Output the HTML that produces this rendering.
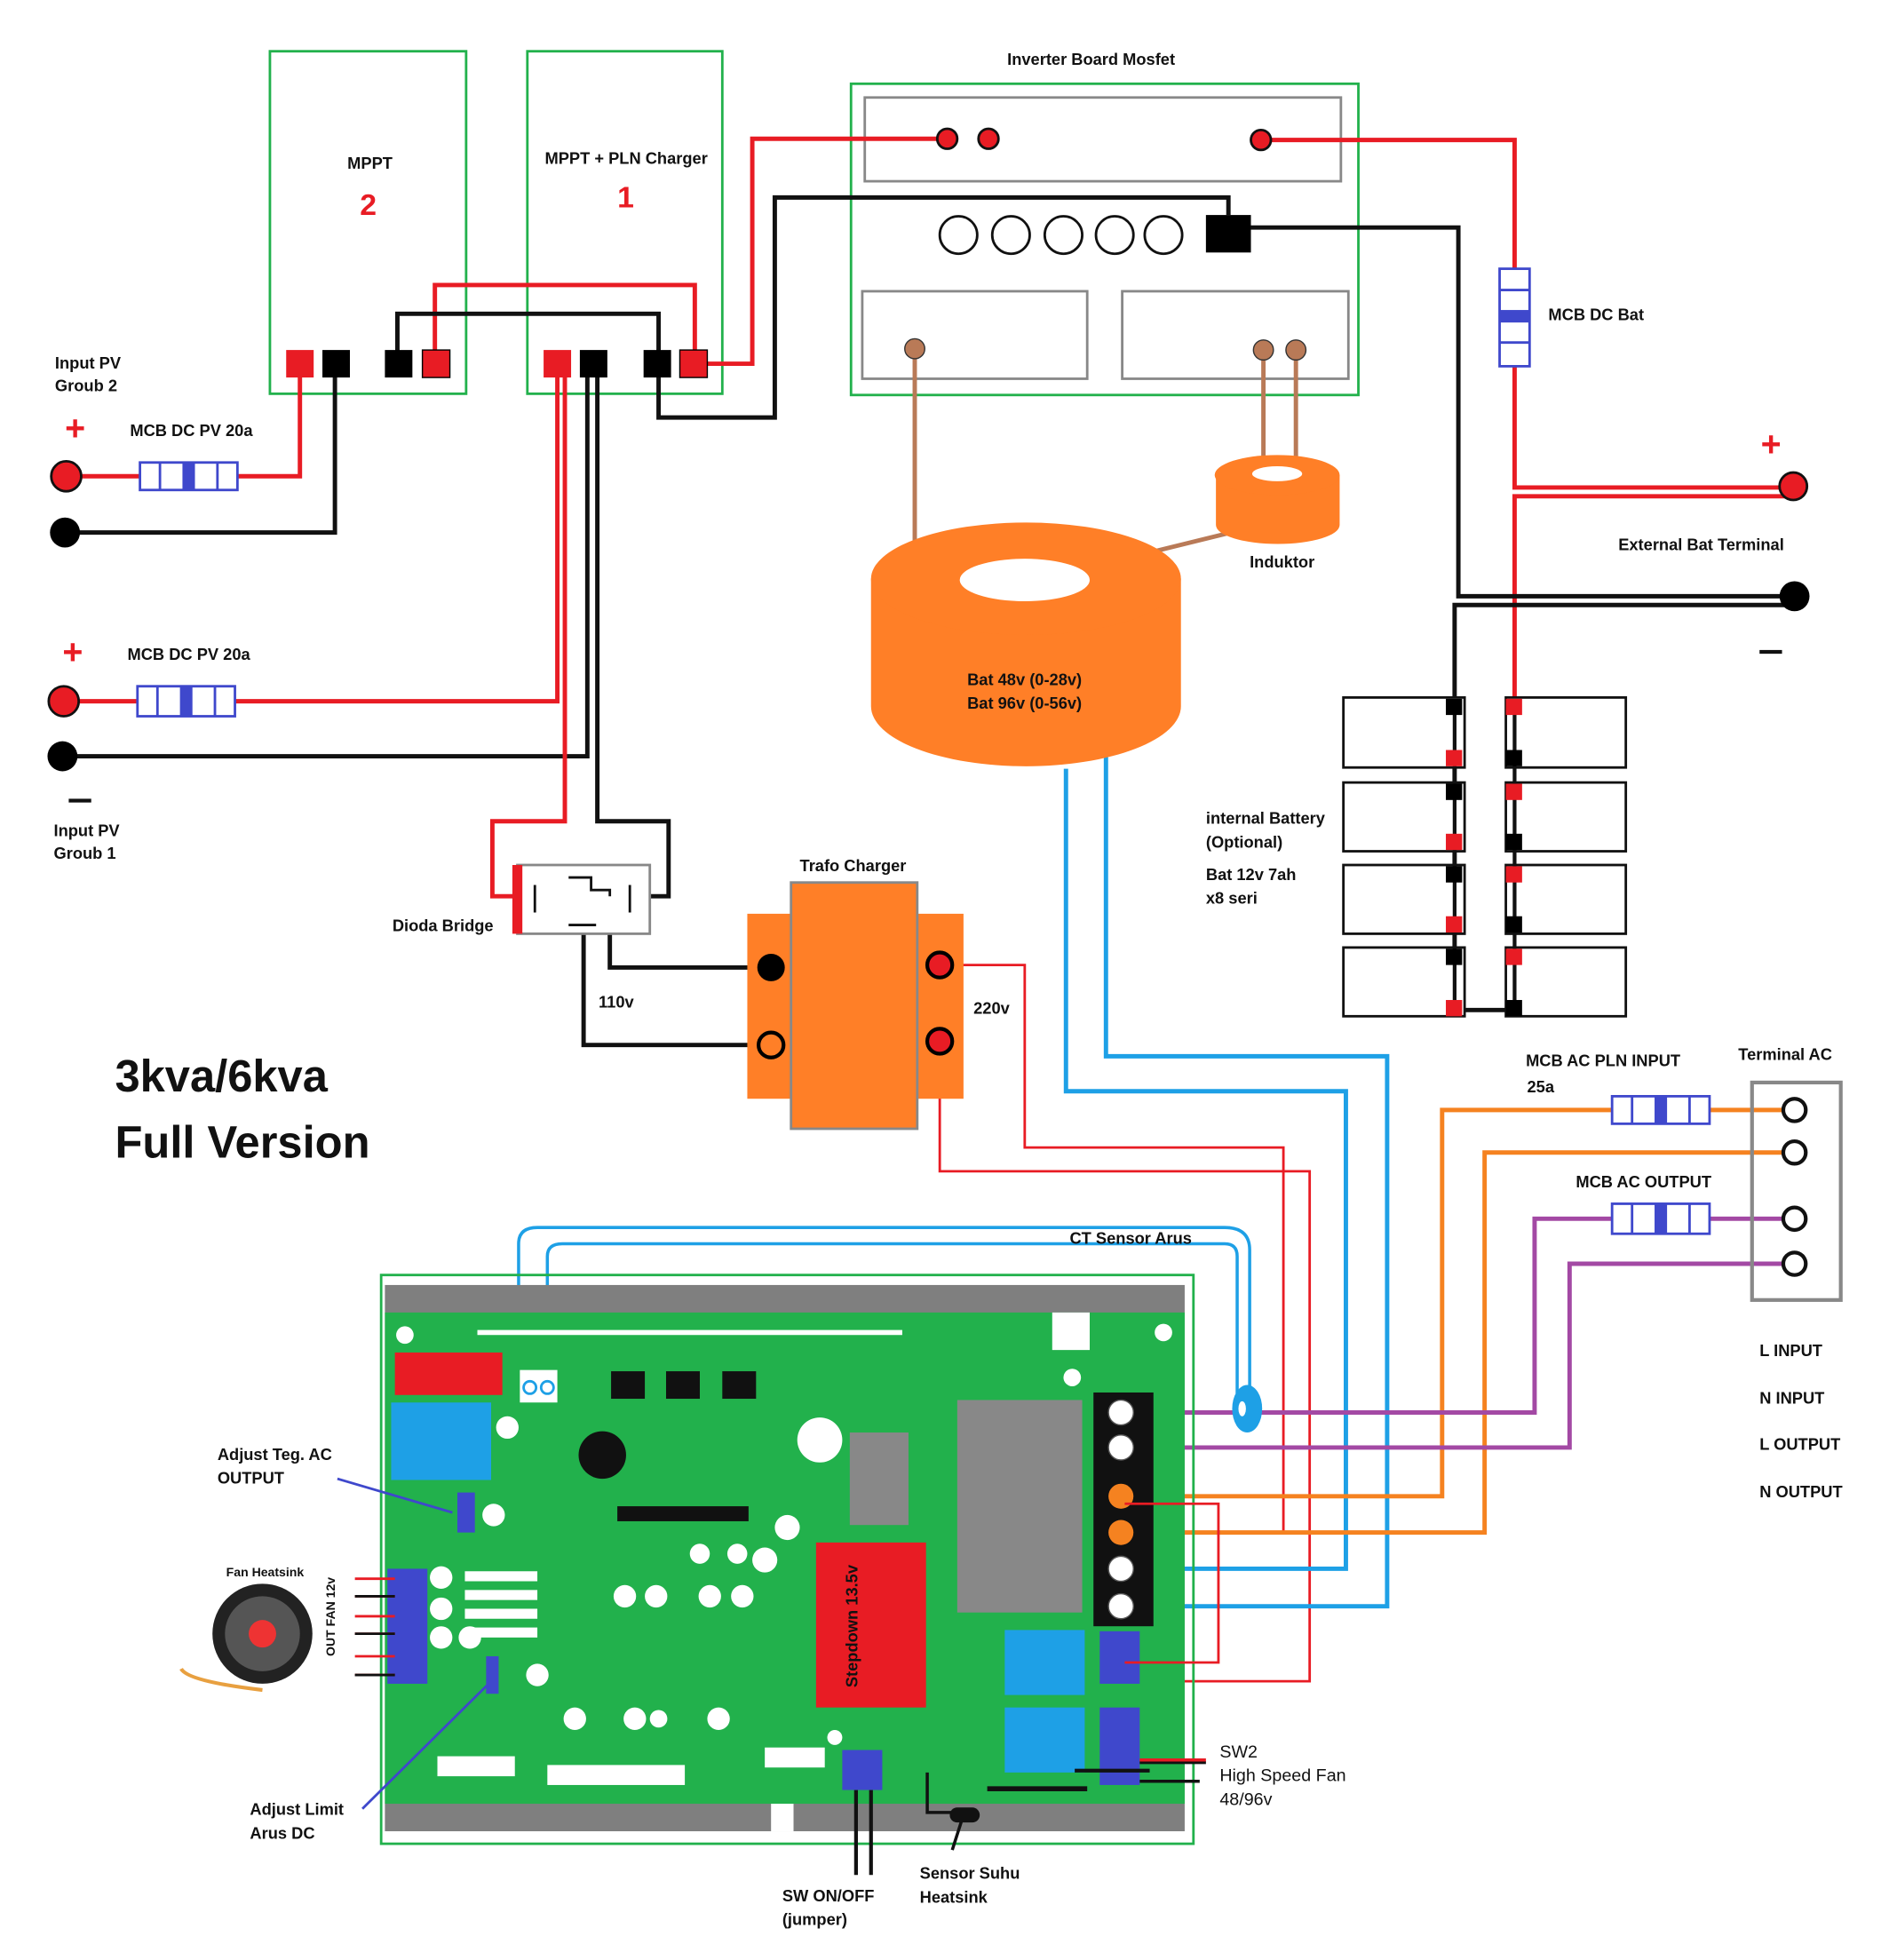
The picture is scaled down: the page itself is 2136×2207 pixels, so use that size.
<!DOCTYPE html>
<html><head><meta charset="utf-8"><style>
html,body{margin:0;padding:0;background:#fff}
svg{display:block}
text{font-family:"Liberation Sans",sans-serif;font-weight:bold;font-size:13px;fill:#111}
</style></head><body>
<svg width="2136" height="2207" viewBox="0 0 1518 1568" preserveAspectRatio="none" xmlns="http://www.w3.org/2000/svg">
<rect width="1530" height="1581" fill="#fff"/>
<rect x="216" y="41" width="157" height="274" fill="none" stroke="#22b14c" stroke-width="2"/>
<rect x="422" y="41" width="156" height="274" fill="none" stroke="#22b14c" stroke-width="2"/>
<text x="278" y="135">MPPT</text>
<text x="288" y="172" style="fill:#e81c24;font-size:24px">2</text>
<text x="436" y="131">MPPT + PLN Charger</text>
<text x="494" y="166" style="fill:#e81c24;font-size:24px">1</text>
<text x="806" y="52">Inverter Board Mosfet</text>
<rect x="681" y="67" width="406" height="249" fill="none" stroke="#22b14c" stroke-width="2"/>
<rect x="692" y="78" width="381" height="67" fill="none" stroke="#888" stroke-width="2"/>
<rect x="690" y="233" width="180" height="70" fill="none" stroke="#888" stroke-width="2"/>
<rect x="898" y="233" width="181" height="70" fill="none" stroke="#888" stroke-width="2"/>
<g fill="none" stroke="#111" stroke-width="2"><circle cx="767" cy="188" r="15"/><circle cx="809" cy="188" r="15"/><circle cx="851" cy="188" r="15"/><circle cx="892" cy="188" r="15"/><circle cx="931" cy="188" r="15"/></g>
<rect x="965" y="172" width="36" height="30" fill="#000"/>
<g fill="none" stroke-width="3.5">
<path d="M758 111H602V291H555" stroke="#e81c24"/>
<path d="M1009 112H1212V390H1435" stroke="#e81c24"/>
<path d="M1435 397H1212V565" stroke="#e81c24"/>
<path d="M983 172V158H620V334H527V291" stroke="#111"/>
<path d="M1001 182H1167V477H1435" stroke="#111"/>
<path d="M1435 484H1164V565" stroke="#111"/>
<path d="M348 291V228H556V291" stroke="#e81c24"/>
<path d="M318 291V251H527V291" stroke="#111"/>
<path d="M240 291V381H190M112 381H52" stroke="#e81c24"/>
<path d="M268 291V426H52" stroke="#111"/>
<path d="M446 291V561H188M110 561H50" stroke="#e81c24"/>
<path d="M470 291V605H50" stroke="#111"/>
<path d="M452 291V657H394V717H414" stroke="#e81c24"/>
<path d="M478 291V657H535V717H505" stroke="#111"/>
<path d="M488 715V774H617" stroke="#111"/>
<path d="M467 740V836H617" stroke="#111"/>
<path d="M752 772H820V918H1027V1226H900" stroke="#e81c24" stroke-width="2"/>
<path d="M752 833V937H1048V1345H900" stroke="#e81c24" stroke-width="2"/>
<path d="M853 615V873H1077V1255H900" stroke="#1ea0e6"/>
<path d="M885 600V845H1110V1285H900" stroke="#1ea0e6"/>
<path d="M1436 888H1368M1290 888H1154V1197H900" stroke="#f58220"/>
<path d="M1436 922H1188V1226H900" stroke="#f58220"/>
<path d="M1436 975H1368M1290 975H1228V1130H900" stroke="#a349a4"/>
<path d="M1436 1011H1256V1158H900" stroke="#a349a4"/>
<path d="M1164 565V808H1212" stroke="#111"/>
<path d="M732 280V440M1011 280V370M1037 280V370M920 442L985 426" stroke="#b97a57"/>
<path d="M415 1115V995Q415 982 430 982H980Q1000 982 1000 1000V1115M438 1115V1005Q438 995 450 995H980Q990 995 990 1005V1115" stroke="#1ea0e6" stroke-width="2.5"/>
</g>
<g><rect x="229" y="280" width="22" height="22" fill="#e81c24"/><rect x="258" y="280" width="22" height="22" fill="#000"/>
<rect x="308" y="280" width="22" height="22" fill="#000"/><rect x="338" y="280" width="22" height="22" fill="#e81c24" stroke="#000"/>
<rect x="435" y="280" width="22" height="22" fill="#e81c24"/><rect x="464" y="280" width="22" height="22" fill="#000"/>
<rect x="515" y="280" width="22" height="22" fill="#000"/><rect x="544" y="280" width="22" height="22" fill="#e81c24" stroke="#000"/></g>
<g fill="#e81c24" stroke="#111" stroke-width="2"><circle cx="758" cy="111" r="8"/><circle cx="791" cy="111" r="8"/><circle cx="1009" cy="112" r="8"/>
<circle cx="53" cy="381" r="12"/><circle cx="51" cy="561" r="12"/><circle cx="1435" cy="389" r="11"/></g>
<g fill="#000"><circle cx="52" cy="426" r="12"/><circle cx="50" cy="605" r="12"/><circle cx="1436" cy="477" r="12"/></g>
<g fill="#b97a57" stroke="#333"><circle cx="732" cy="279" r="8"/><circle cx="1011" cy="280" r="8"/><circle cx="1037" cy="280" r="8"/></g>
<g fill="#fff" stroke="#3f48cc" stroke-width="2">
<rect x="112" y="370" width="78" height="22"/><rect x="110" y="549" width="78" height="24"/>
<rect x="1290" y="877" width="78" height="22"/><rect x="1290" y="963" width="78" height="24"/>
<rect x="1200" y="215" width="24" height="78"/></g>
<g fill="#3f48cc"><rect x="146" y="370" width="10" height="22"/><rect x="144" y="549" width="10" height="24"/><rect x="1324" y="877" width="10" height="22"/><rect x="1324" y="963" width="10" height="24"/><rect x="1200" y="248" width="24" height="10"/></g>
<g stroke="#3f48cc" stroke-width="2"><path d="M128 370v22M174 370v22M126 549v24M172 549v24M1306 877v22M1352 877v22M1306 963v24M1352 963v24M1200 232h24M1200 274h24"/></g>
<text x="104" y="349">MCB DC PV 20a</text><text x="102" y="528">MCB DC PV 20a</text>
<text x="44" y="295">Input PV</text><text x="44" y="313">Groub 2</text>
<text x="43" y="669">Input PV</text><text x="43" y="687">Groub 1</text>
<text x="52" y="352" style="fill:#e81c24;font-size:28px">+</text><text x="50" y="531" style="fill:#e81c24;font-size:28px">+</text>
<rect x="55" y="639" width="18" height="3" fill="#111"/>
<text x="1239" y="256">MCB DC Bat</text>
<text x="1409" y="365" style="fill:#e81c24;font-size:28px">+</text>
<rect x="1408" y="520" width="18" height="3" fill="#111"/>
<text x="1295" y="440">External Bat Terminal</text>
<path d="M697 463V565A124 48 0 0 0 945 565V463Z" fill="#ff7f27"/>
<ellipse cx="821" cy="463" rx="124" ry="45" fill="#ff7f27"/>
<ellipse cx="820" cy="464" rx="52" ry="17" fill="#fff"/>
<text x="774" y="548">Bat 48v (0-28v)</text><text x="774" y="567">Bat 96v (0-56v)</text>
<path d="M973 380V420A49 15 0 0 0 1072 420V380Z" fill="#ff7f27"/>
<ellipse cx="1022" cy="380" rx="50" ry="16" fill="#ff7f27"/>
<ellipse cx="1022" cy="379" rx="20" ry="6" fill="#fff"/>
<text x="1000" y="454">Induktor</text>
<g fill="#fff" stroke="#111" stroke-width="2">
<rect x="1075" y="558" width="97" height="56"/><rect x="1205" y="558" width="96" height="56"/>
<rect x="1075" y="626" width="97" height="55"/><rect x="1205" y="626" width="96" height="55"/>
<rect x="1075" y="692" width="97" height="55"/><rect x="1205" y="692" width="96" height="55"/>
<rect x="1075" y="758" width="97" height="55"/><rect x="1205" y="758" width="96" height="55"/></g>
<g stroke-width="3"><path d="M1164 565V808" stroke="#111"/><path d="M1212 565V808" stroke="#111"/></g>
<g>
<rect x="1157" y="559" width="13" height="13" fill="#000"/><rect x="1205" y="559" width="13" height="13" fill="#e81c24"/>
<rect x="1157" y="600" width="13" height="13" fill="#e81c24"/><rect x="1205" y="600" width="13" height="13" fill="#000"/>
<rect x="1157" y="627" width="13" height="13" fill="#000"/><rect x="1205" y="627" width="13" height="13" fill="#e81c24"/>
<rect x="1157" y="667" width="13" height="13" fill="#e81c24"/><rect x="1205" y="667" width="13" height="13" fill="#000"/>
<rect x="1157" y="693" width="13" height="13" fill="#000"/><rect x="1205" y="693" width="13" height="13" fill="#e81c24"/>
<rect x="1157" y="733" width="13" height="13" fill="#e81c24"/><rect x="1205" y="733" width="13" height="13" fill="#000"/>
<rect x="1157" y="759" width="13" height="13" fill="#000"/><rect x="1205" y="759" width="13" height="13" fill="#e81c24"/>
<rect x="1157" y="800" width="13" height="13" fill="#e81c24"/><rect x="1205" y="800" width="13" height="13" fill="#000"/></g>
<text x="965" y="659">internal Battery</text><text x="965" y="678">(Optional)</text>
<text x="965" y="704">Bat 12v 7ah</text><text x="965" y="723">x8 seri</text>
<rect x="414" y="692" width="106" height="55" fill="#fff" stroke="#888" stroke-width="2"/>
<rect x="410" y="692" width="8" height="55" fill="#e81c24"/>
<path d="M428 708v22M455 702h18v10h16M504 708v22M455 740h22M488 717v-5" stroke="#111" stroke-width="2" fill="none"/>
<text x="314" y="745">Dioda Bridge</text>
<rect x="598" y="731" width="173" height="148" fill="#ff7f27"/>
<rect x="633" y="706" width="101" height="197" fill="#ff7f27" stroke="#888" stroke-width="2"/>
<circle cx="617" cy="774" r="11" fill="#000"/>
<circle cx="617" cy="836" r="10" fill="#ff7f27" stroke="#000" stroke-width="3"/>
<circle cx="752" cy="772" r="10" fill="#e81c24" stroke="#000" stroke-width="3"/>
<circle cx="752" cy="833" r="10" fill="#e81c24" stroke="#000" stroke-width="3"/>
<text x="640" y="697">Trafo Charger</text><text x="479" y="806">110v</text><text x="779" y="811">220v</text>
<text x="92" y="873" style="font-size:36px">3kva/6kva</text>
<text x="92" y="926" style="font-size:36px">Full Version</text>
<text x="1391" y="848">Terminal AC</text>
<rect x="1402" y="866" width="71" height="174" fill="none" stroke="#888" stroke-width="3"/>
<g fill="#fff" stroke="#111" stroke-width="3"><circle cx="1436" cy="888" r="9"/><circle cx="1436" cy="922" r="9"/><circle cx="1436" cy="975" r="9"/><circle cx="1436" cy="1011" r="9"/></g>
<text x="1221" y="853">MCB AC PLN INPUT</text><text x="1222" y="874">25a</text>
<text x="1261" y="950">MCB AC OUTPUT</text>
<text x="1408" y="1085">L INPUT</text><text x="1408" y="1123">N INPUT</text><text x="1408" y="1160">L OUTPUT</text><text x="1408" y="1198">N OUTPUT</text>
<text x="856" y="995">CT Sensor Arus</text>
<rect x="305" y="1020" width="650" height="455" fill="none" stroke="#22b14c" stroke-width="2"/>
<rect x="308" y="1028" width="640" height="437" fill="#7f7f7f"/>
<rect x="308" y="1050" width="640" height="393" fill="#22b14c"/>
<rect x="617" y="1443" width="18" height="22" fill="#fff"/>
<rect x="316" y="1082" width="86" height="34" fill="#e81c24"/>
<rect x="313" y="1122" width="80" height="62" fill="#1ea0e6"/>
<rect x="416" y="1096" width="30" height="26" fill="#fff"/>
<circle cx="424" cy="1110" r="5" fill="none" stroke="#1ea0e6" stroke-width="2"/><circle cx="438" cy="1110" r="5" fill="none" stroke="#1ea0e6" stroke-width="2"/>
<rect x="489" y="1097" width="27" height="22" fill="#111"/><rect x="533" y="1097" width="27" height="22" fill="#111"/><rect x="578" y="1097" width="27" height="22" fill="#111"/>
<circle cx="482" cy="1164" r="19" fill="#111"/>
<rect x="494" y="1205" width="105" height="12" fill="#111"/>
<circle cx="656" cy="1152" r="18" fill="#fff"/>
<rect x="680" y="1146" width="47" height="74" fill="#888"/>
<rect x="653" y="1234" width="88" height="132" fill="#e81c24"/>
<text transform="translate(686 1350) rotate(-90)" style="font-size:13px">Stepdown 13.5v</text>
<rect x="766" y="1120" width="100" height="170" fill="#888"/>
<rect x="875" y="1114" width="48" height="187" fill="#111"/>
<g fill="#fff" stroke="#555"><circle cx="897" cy="1130" r="10"/><circle cx="897" cy="1158" r="10"/><circle cx="897" cy="1255" r="10"/><circle cx="897" cy="1285" r="10"/></g>
<circle cx="897" cy="1197" r="10" fill="#f58220"/><circle cx="897" cy="1226" r="10" fill="#f58220"/>
<rect x="880" y="1305" width="32" height="42" fill="#3f48cc"/><rect x="880" y="1366" width="32" height="62" fill="#3f48cc"/>
<rect x="804" y="1304" width="64" height="52" fill="#1ea0e6"/><rect x="804" y="1366" width="64" height="52" fill="#1ea0e6"/>
<rect x="310" y="1255" width="32" height="92" fill="#3f48cc"/>
<rect x="674" y="1400" width="32" height="32" fill="#3f48cc"/>
<rect x="366" y="1194" width="14" height="32" fill="#3f48cc"/>
<rect x="389" y="1325" width="10" height="30" fill="#3f48cc"/>
<g fill="#fff"><rect x="350" y="1405" width="62" height="16"/><rect x="438" y="1412" width="110" height="16"/><rect x="612" y="1398" width="48" height="16"/><rect x="842" y="1050" width="30" height="30"/>
<circle cx="560" cy="1243" r="8"/><circle cx="590" cy="1243" r="8"/><circle cx="630" cy="1222" r="10"/><circle cx="612" cy="1248" r="10"/><circle cx="500" cy="1277" r="9"/><circle cx="525" cy="1277" r="9"/><circle cx="568" cy="1277" r="9"/><circle cx="594" cy="1277" r="9"/><circle cx="353" cy="1262" r="9"/><circle cx="353" cy="1287" r="9"/><circle cx="353" cy="1310" r="9"/><circle cx="376" cy="1310" r="9"/><circle cx="406" cy="1142" r="9"/><circle cx="395" cy="1212" r="9"/><circle cx="460" cy="1375" r="9"/><circle cx="508" cy="1375" r="9"/><circle cx="575" cy="1375" r="9"/><circle cx="527" cy="1375" r="7"/><circle cx="430" cy="1340" r="9"/><circle cx="324" cy="1068" r="7"/><circle cx="858" cy="1102" r="7"/><circle cx="931" cy="1066" r="7"/><circle cx="668" cy="1390" r="6"/>
<rect x="382" y="1064" width="340" height="4"/><rect x="372" y="1257" width="58" height="8"/><rect x="372" y="1272" width="58" height="8"/><rect x="372" y="1287" width="58" height="8"/><rect x="372" y="1302" width="58" height="8"/></g>
<rect x="790" y="1429" width="80" height="4" fill="#111"/><rect x="860" y="1415" width="60" height="3" fill="#111"/>
<g fill="none" stroke-width="2.5">
<path d="M912 1410H965M912 1425H960" stroke="#111"/><path d="M912 1408H965" stroke="#e81c24"/>
<path d="M685 1432V1500M697 1432V1500" stroke="#111" stroke-width="3"/>
<path d="M742 1418V1450H780M770 1455L762 1480" stroke="#111"/>
<path d="M900 1330H975V1203H900" stroke="#e81c24" stroke-width="2"/>
<path d="M270 1183L362 1210M290 1447L390 1348" stroke="#3f48cc" stroke-width="2"/>
<path d="M284 1263H316M284 1277H316M284 1293H316M284 1307H316M284 1325H316M284 1340H316" stroke="#e81c24" stroke-width="2"/>
<path d="M284 1277H316M284 1307H316M284 1340H316" stroke="#111" stroke-width="2"/>
</g>
<rect x="760" y="1446" width="24" height="12" rx="6" fill="#111"/>
<ellipse cx="998" cy="1127" rx="12" ry="19" fill="#1ea0e6"/><ellipse cx="994" cy="1127" rx="3" ry="6" fill="#fff"/>
<text x="174" y="1168">Adjust Teg. AC</text><text x="174" y="1187">OUTPUT</text>
<text x="181" y="1261" style="font-size:10px">Fan Heatsink</text>
<circle cx="210" cy="1307" r="40" fill="#222"/><circle cx="210" cy="1307" r="30" fill="#555"/><circle cx="210" cy="1307" r="11" fill="#e33"/>
<path d="M145 1335Q150 1345 210 1352" stroke="#e8a040" stroke-width="3" fill="none"/>
<text transform="translate(268 1325) rotate(-90)" style="font-size:10px">OUT FAN 12v</text>
<text x="200" y="1452">Adjust Limit</text><text x="200" y="1471">Arus DC</text>
<text x="976" y="1406" style="font-weight:normal;font-size:14px">SW2</text>
<text x="976" y="1425" style="font-weight:normal;font-size:14px">High Speed Fan</text>
<text x="976" y="1444" style="font-weight:normal;font-size:14px">48/96v</text>
<text x="736" y="1503">Sensor Suhu</text><text x="736" y="1522">Heatsink</text>
<text x="626" y="1521">SW ON/OFF</text><text x="626" y="1540">(jumper)</text>
</svg>
</body></html>
